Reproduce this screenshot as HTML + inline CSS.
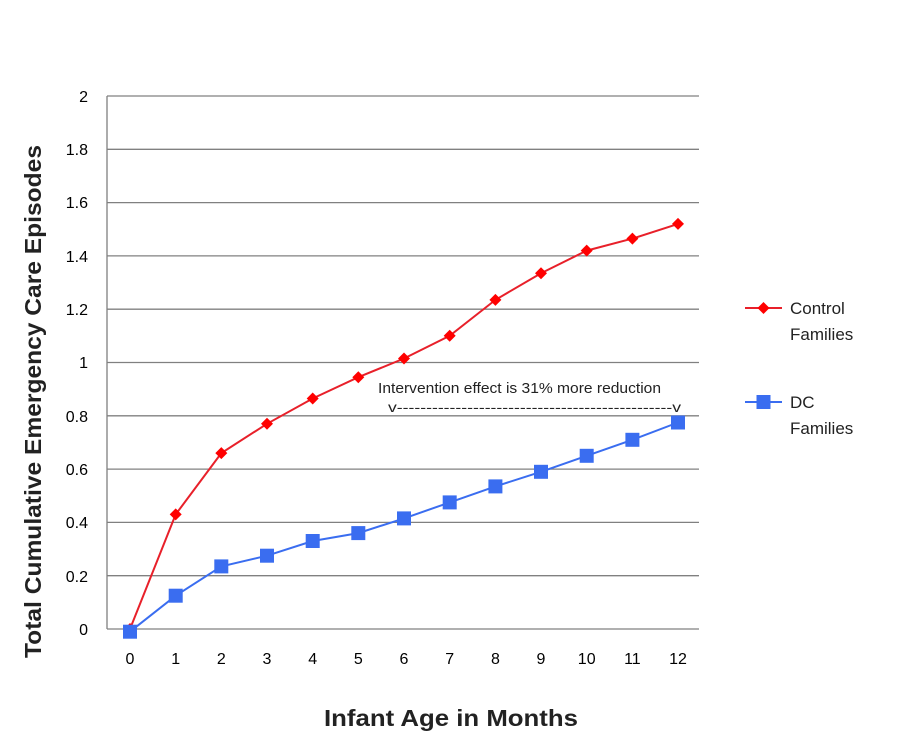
<!DOCTYPE html>
<html><head><meta charset="utf-8"><style>body{margin:0;background:#fff}svg{display:block}</style></head><body>
<svg width="920" height="740" viewBox="0 0 920 740" xmlns="http://www.w3.org/2000/svg" font-family="Liberation Sans, sans-serif">
<rect width="920" height="740" fill="#fff"/>
<g stroke="#808080" stroke-width="1.3">
<line x1="107" y1="96" x2="699" y2="96"/><line x1="107" y1="149.3" x2="699" y2="149.3"/><line x1="107" y1="202.6" x2="699" y2="202.6"/><line x1="107" y1="255.9" x2="699" y2="255.9"/><line x1="107" y1="309.2" x2="699" y2="309.2"/><line x1="107" y1="362.5" x2="699" y2="362.5"/><line x1="107" y1="415.8" x2="699" y2="415.8"/><line x1="107" y1="469.1" x2="699" y2="469.1"/><line x1="107" y1="522.4" x2="699" y2="522.4"/><line x1="107" y1="575.7" x2="699" y2="575.7"/><line x1="107" y1="629" x2="699" y2="629"/>
<line x1="107" y1="96" x2="107" y2="629"/>
</g>
<g font-size="16" fill="#000" text-anchor="end">
<text x="88" y="102">2</text><text x="88" y="155">1.8</text><text x="88" y="208">1.6</text><text x="88" y="262">1.4</text><text x="88" y="315">1.2</text><text x="88" y="368">1</text><text x="88" y="422">0.8</text><text x="88" y="475">0.6</text><text x="88" y="528">0.4</text><text x="88" y="582">0.2</text><text x="88" y="635">0</text>
</g>
<g font-size="16" fill="#000" text-anchor="middle">
<text x="130" y="664">0</text><text x="175.7" y="664">1</text><text x="221.3" y="664">2</text><text x="267" y="664">3</text><text x="312.7" y="664">4</text><text x="358.3" y="664">5</text><text x="404" y="664">6</text><text x="449.7" y="664">7</text><text x="495.4" y="664">8</text><text x="541" y="664">9</text><text x="586.7" y="664">10</text><text x="632.4" y="664">11</text><text x="678" y="664">12</text>
</g>
<text x="324" y="726" font-size="23" font-weight="bold" textLength="254" lengthAdjust="spacingAndGlyphs" fill="#222">Infant Age in Months</text>
<text transform="translate(41,658) rotate(-90)" font-size="23" font-weight="bold" textLength="513" lengthAdjust="spacingAndGlyphs" fill="#222">Total Cumulative Emergency Care Episodes</text>
<text x="378" y="393" font-size="14.5" textLength="283" lengthAdjust="spacingAndGlyphs" fill="#222">Intervention effect is 31% more reduction</text>
<text x="388" y="412" font-size="14" textLength="293" lengthAdjust="spacingAndGlyphs" fill="#222">v-----------------------------------------------v</text>
<polyline fill="none" stroke="#e8202a" stroke-width="2" points="130,629 175.7,514.4 221.3,453.1 267,423.8 312.7,398.5 358.3,377.2 404,358.5 449.7,335.8 495.4,299.9 541,273.2 586.7,250.6 632.4,238.6 678,223.9"/>
<g fill="#f00">
<path d="M130 623l6 6-6 6-6-6z"/><path d="M175.7 508.4l6 6-6 6-6-6z"/><path d="M221.3 447.1l6 6-6 6-6-6z"/><path d="M267 417.8l6 6-6 6-6-6z"/><path d="M312.7 392.5l6 6-6 6-6-6z"/><path d="M358.3 371.2l6 6-6 6-6-6z"/><path d="M404 352.5l6 6-6 6-6-6z"/><path d="M449.7 329.8l6 6-6 6-6-6z"/><path d="M495.4 293.9l6 6-6 6-6-6z"/><path d="M541 267.2l6 6-6 6-6-6z"/><path d="M586.7 244.6l6 6-6 6-6-6z"/><path d="M632.4 232.6l6 6-6 6-6-6z"/><path d="M678 217.9l6 6-6 6-6-6z"/>
</g>
<polyline fill="none" stroke="#3a6df0" stroke-width="2" points="130,631.7 175.7,595.7 221.3,566.4 267,555.7 312.7,541 358.3,533.1 404,518.4 449.7,502.4 495.4,486.4 541,471.8 586.7,455.8 632.4,439.8 678,422.5"/>
<g fill="#3a6df0">
<rect x="123" y="624.7" width="14" height="14"/><rect x="168.7" y="588.7" width="14" height="14"/><rect x="214.3" y="559.4" width="14" height="14"/><rect x="260" y="548.7" width="14" height="14"/><rect x="305.7" y="534" width="14" height="14"/><rect x="351.3" y="526.1" width="14" height="14"/><rect x="397" y="511.4" width="14" height="14"/><rect x="442.7" y="495.4" width="14" height="14"/><rect x="488.4" y="479.4" width="14" height="14"/><rect x="534" y="464.8" width="14" height="14"/><rect x="579.7" y="448.8" width="14" height="14"/><rect x="625.4" y="432.8" width="14" height="14"/><rect x="671" y="415.5" width="14" height="14"/>
</g>
<line x1="745" y1="308" x2="782" y2="308" stroke="#e8202a" stroke-width="2"/>
<path d="M763.5 302l6 6-6 6-6-6z" fill="#f00"/>
<text x="790" y="314" font-size="17" fill="#222">Control</text>
<text x="790" y="340" font-size="17" fill="#222">Families</text>
<line x1="745" y1="402" x2="782" y2="402" stroke="#3a6df0" stroke-width="2"/>
<rect x="756.5" y="395" width="14" height="14" fill="#3a6df0"/>
<text x="790" y="408" font-size="17" fill="#222">DC</text>
<text x="790" y="434" font-size="17" fill="#222">Families</text>
</svg>
</body></html>
